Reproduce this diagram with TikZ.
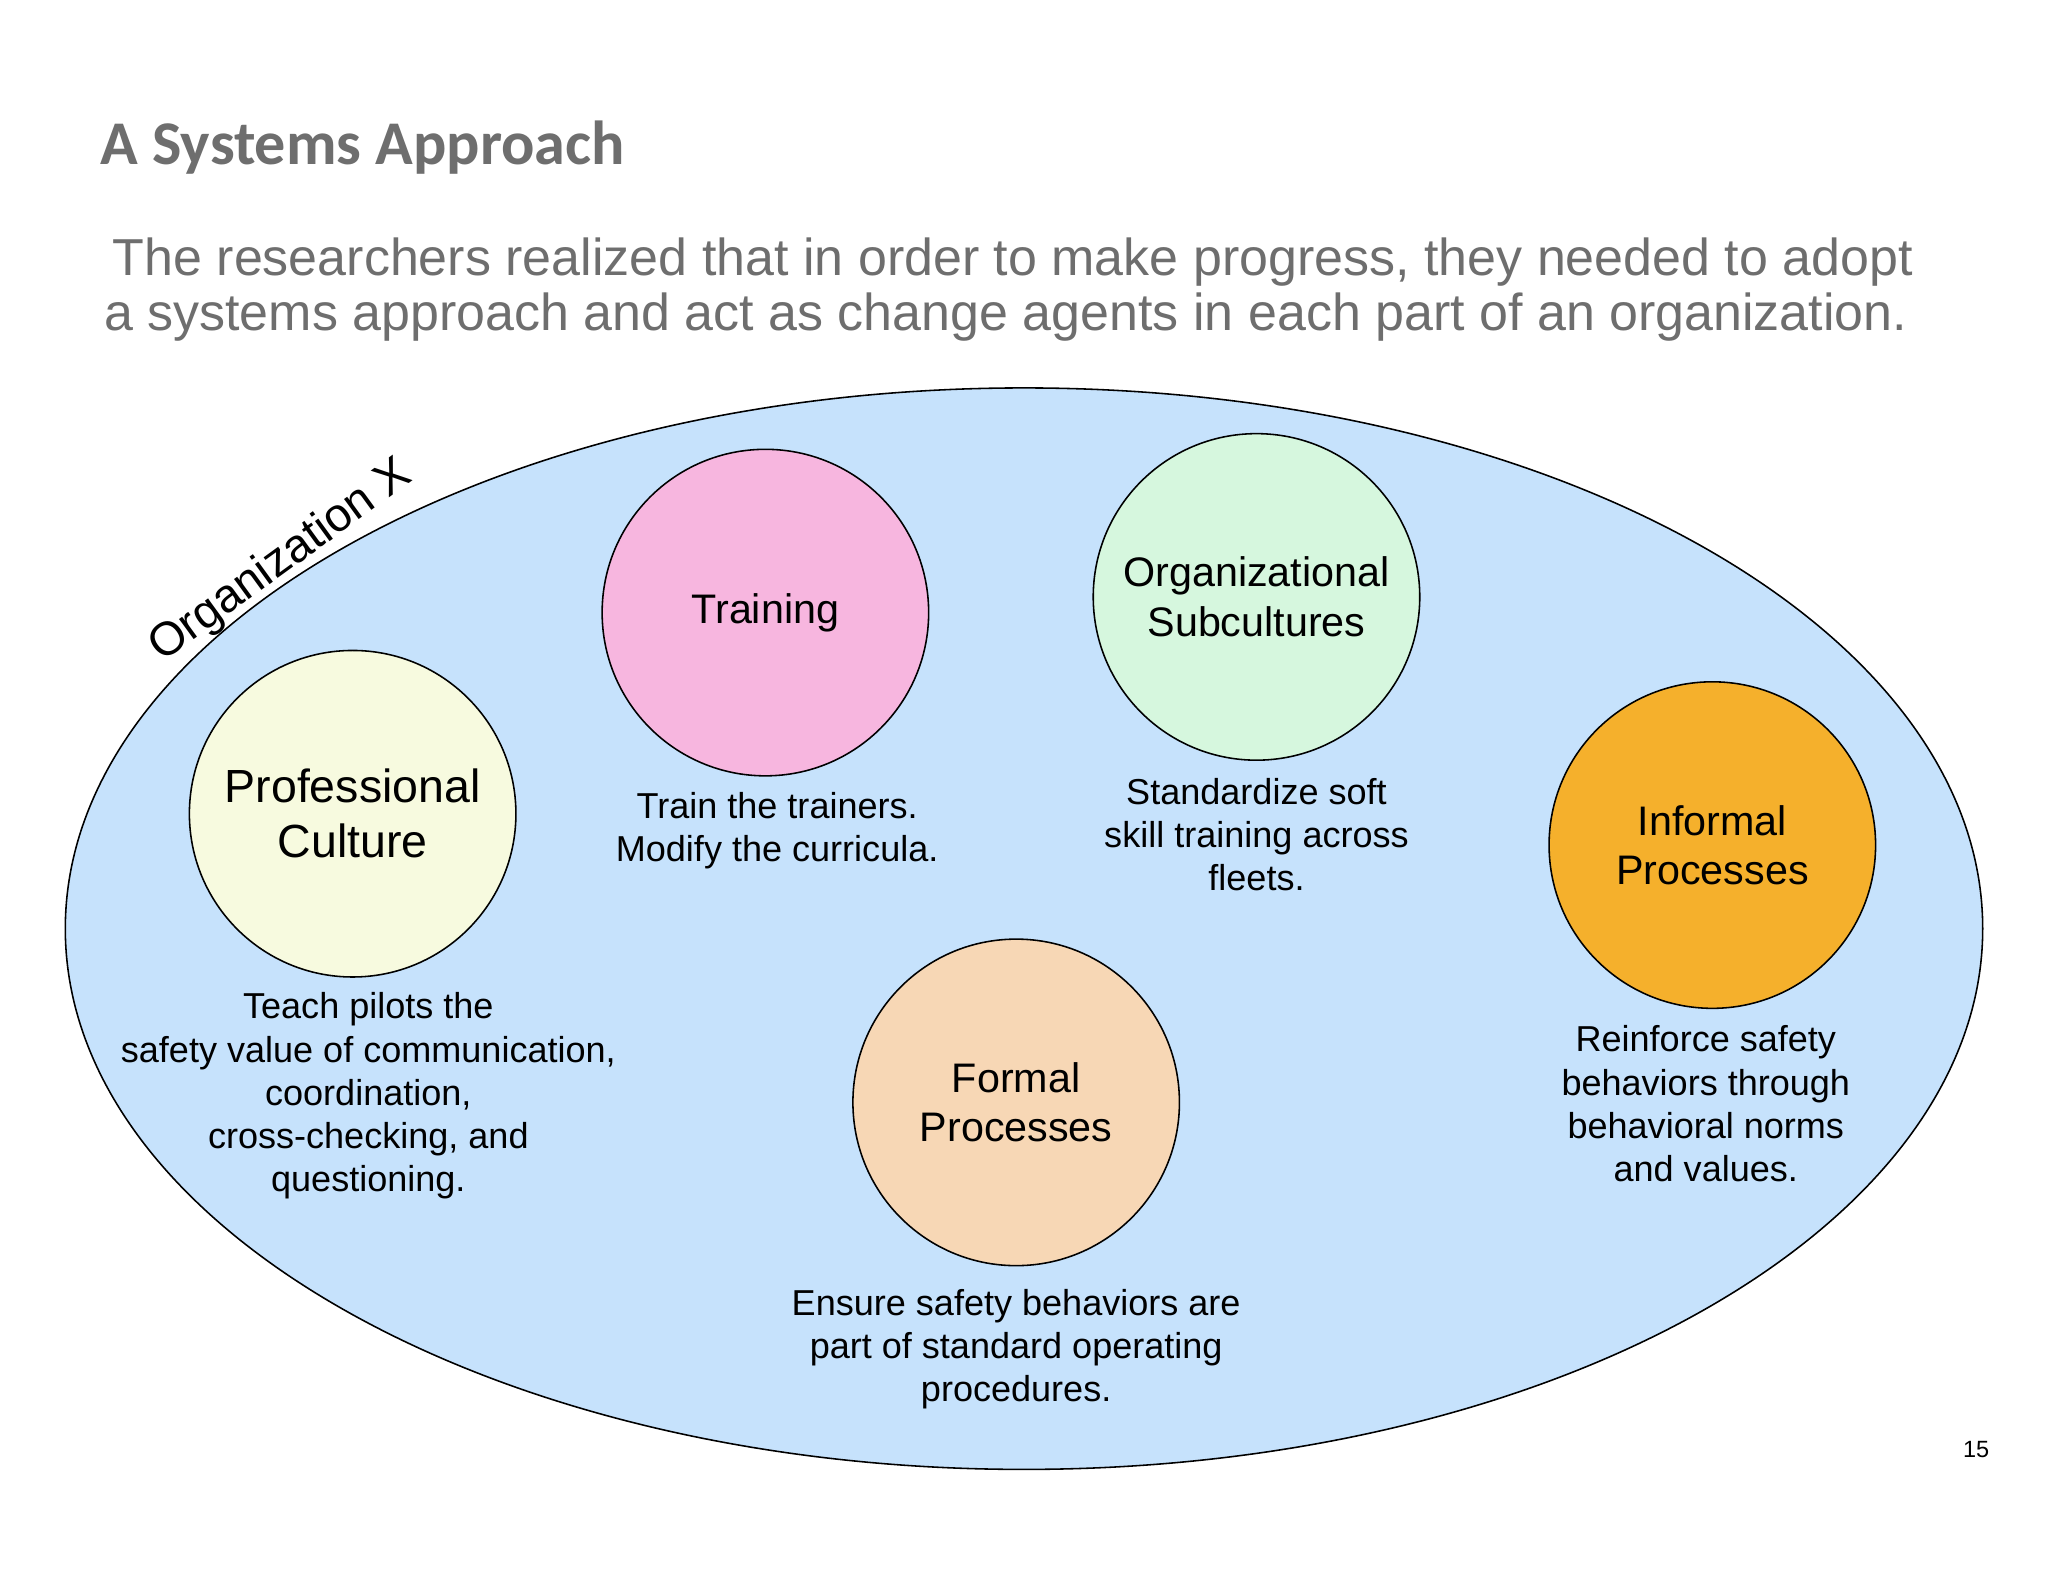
\documentclass[tikz,border=0pt]{standalone}
\usepackage{fontspec}
\usetikzlibrary{shapes.geometric}
\setmainfont{Liberation Sans}
\newfontfamily\titlefont{Carlito}
\definecolor{orgblue}{HTML}{C6E2FC}
\definecolor{cpink}{HTML}{F7B6DF}
\definecolor{cgreen}{HTML}{D6F7DE}
\definecolor{cyellow}{HTML}{F7FADF}
\definecolor{corange}{HTML}{F5B02C}
\definecolor{cpeach}{HTML}{F7D7B5}
\definecolor{txtgray}{HTML}{6E6E6E}
\begin{document}
\begin{tikzpicture}[x=0.5pt,y=-0.5pt,
  circ/.style={circle,draw=black,line width=0.6pt,minimum size=125pt,inner sep=0pt,align=center,font=\fontsize{15.8}{19}\selectfont},
  desc/.style={align=center,font=\fontsize{13.8}{16.5}\selectfont}]
\useasboundingbox (0,0) rectangle (1568,1211);
\fill[white] (0,0) rectangle (1568,1211);
\node[anchor=west,text=txtgray,font=\titlefont\bfseries\fontsize{23.8}{27}\selectfont] (title) at (70,113) {A Systems Approach};
\node[align=center,text=txtgray,font=\fontsize{19.9}{21}\selectfont] (sub) at (770,222) {\ The researchers realized that in order to make progress, they needed to adopt\\a systems approach and act as change agents in each part of an organization.};
\node[ellipse,draw=black,line width=0.6pt,fill=orgblue,minimum width=734pt,minimum height=414pt,inner sep=0pt] (org) at (784,711) {};
\node[rotate=36,font=\fontsize{18}{20}\selectfont] (orgx) at (215,430) {Organization X};
\node[circ,fill=cpink] (train) at (586,469) {Training};
\node[circ,fill=cgreen] (sub2) at (962,457) {Organizational\\Subcultures};
\node[circ,fill=cyellow,font=\fontsize{17.8}{21}\selectfont] (prof) at (270,623) {Professional\\Culture};
\node[circ,fill=corange] (inf) at (1311,647) {Informal\\Processes};
\node[circ,fill=cpeach] (form) at (778,844) {Formal\\Processes};
\node[desc] (d1) at (595,636) {Train the trainers.\\Modify the curricula.};
\node[desc] (d2) at (962,639) {Standardize soft\\skill training across\\fleets.};
\node[desc] (d3) at (282,839) {Teach pilots the\\safety value of communication,\\coordination,\\cross-checking, and\\questioning.};
\node[desc] (d4) at (1306,845) {Reinforce safety\\behaviors through\\behavioral norms\\and values.};
\node[desc] (d5) at (778,1033) {Ensure safety behaviors are\\part of standard operating\\procedures.};
\node[font=\fontsize{9}{11}\selectfont] (pg) at (1513,1110) {15};
\end{tikzpicture}
\end{document}
